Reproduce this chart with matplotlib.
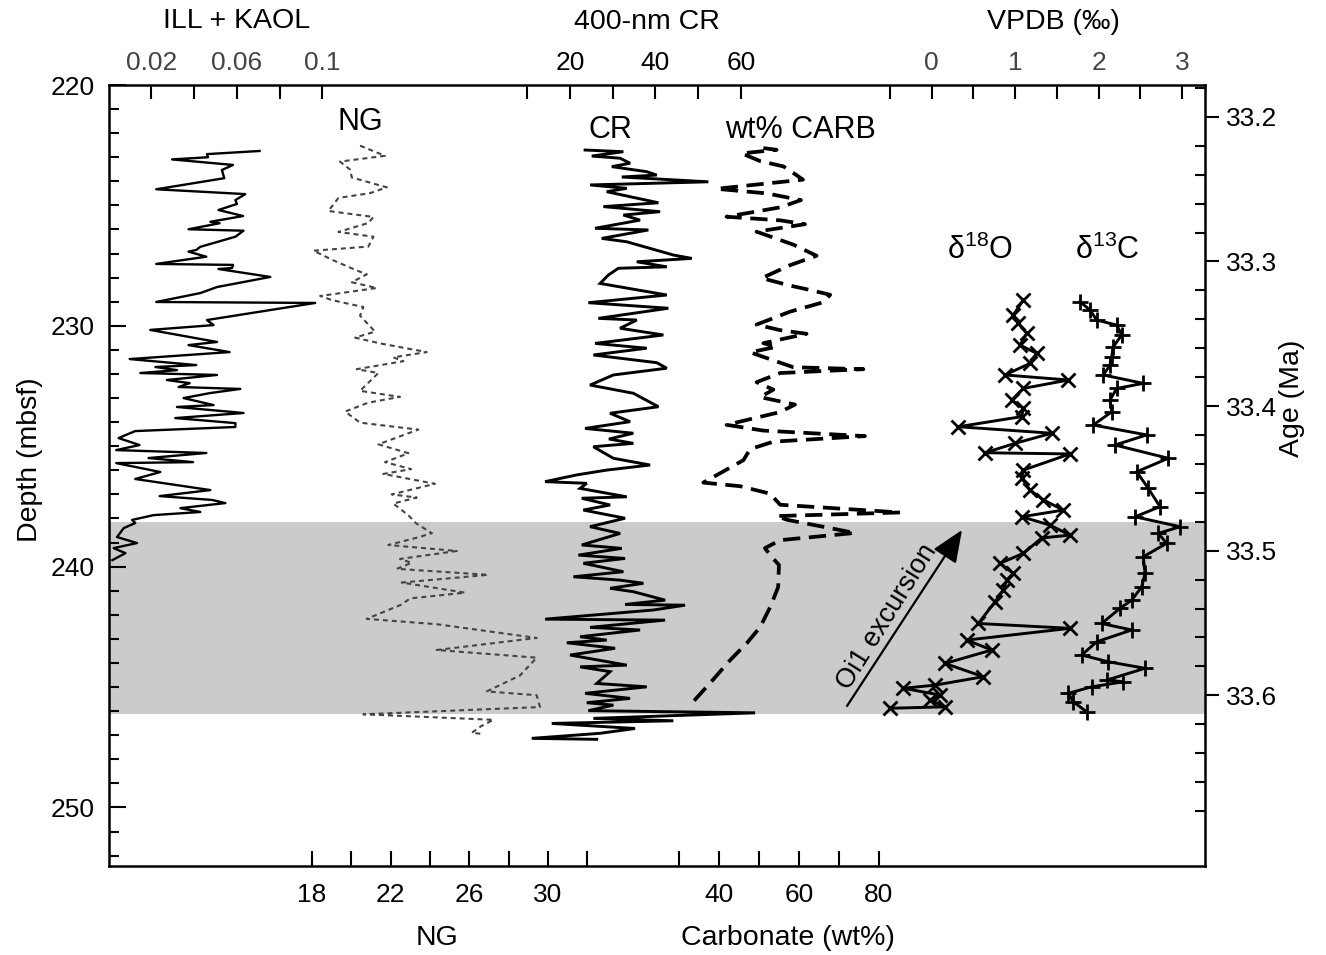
import numpy as np
import matplotlib
matplotlib.use("Agg")
import matplotlib.pyplot as plt
from matplotlib.ticker import FixedLocator

plt.rcParams['font.family'] = ['Liberation Sans', 'DejaVu Sans']
plt.rcParams['mathtext.fontset'] = 'custom'
plt.rcParams['mathtext.rm'] = 'Liberation Sans'
plt.rcParams['mathtext.it'] = 'Liberation Sans:italic'

# ---------------- axis ranges / ticks ----------------
DEPTH_RANGE = (220.0, 252.43)
AGE_RANGE = (33.178, 33.718)
ILL_RANGE = (0.0, 0.5124)
CR_RANGE = (-88.1, 168.7)
NG_RANGE = (7.65, 63.40)
CARB_RANGE = (-112.6, 161.5)
VPDB_RANGE = (-9.859, 3.273)
OI1_BAND = (238.15, 246.12)

DEPTH_TICKS = [220, 230, 240, 250]
AGE_TICKS = [33.2, 33.3, 33.4, 33.5, 33.6]
ILL_TICKS = [0.02, 0.04, 0.06, 0.08, 0.10]
ILL_LABELS = ['0.02', '', '0.06', '', '0.1']
CR_TICKS = [10, 20, 30, 40, 50, 60]
CR_LABELS = ['', '20', '', '40', '', '60']
VPDB_TICKS = [-0.5, 0, 0.5, 1, 1.5, 2, 2.5, 3]
VPDB_LABELS = ['', '0', '', '1', '', '2', '', '3']
NG_TICKS = [18, 20, 22, 24, 26, 28, 30, 32]
NG_LABELS = ['18', '', '22', '', '26', '', '30', '']
CARB_TICKS = [30, 40, 50, 60, 70, 80]
CARB_LABELS = ['', '40', '', '60', '', '80']

# ---------------- data (depth mbsf, value) ----------------
ILL_KAOL = [(222.74, 0.0706), (222.87, 0.0460), (223.00, 0.0465), (223.09, 0.0297), (223.32, 0.0582),
            (223.53, 0.0530), (223.87, 0.0541), (224.33, 0.0223), (224.53, 0.0639), (224.78, 0.0593),
            (224.94, 0.0600), (225.19, 0.0514), (225.44, 0.0629), (225.68, 0.0476), (225.74, 0.0519),
            (225.99, 0.0374), (226.05, 0.0631), (226.30, 0.0593), (226.72, 0.0429), (226.85, 0.0410),
            (226.92, 0.0374), (227.13, 0.0457), (227.43, 0.0223), (227.47, 0.0582), (227.60, 0.0577),
            (227.64, 0.0514), (227.97, 0.0756), (228.39, 0.0507), (228.64, 0.0429), (229.01, 0.0223),
            (229.05, 0.0966), (229.76, 0.0460), (229.97, 0.0491), (230.17, 0.0195), (230.67, 0.0507),
            (230.80, 0.0374), (231.09, 0.0566), (231.38, 0.0099), (231.63, 0.0410), (231.71, 0.0219),
            (231.84, 0.0320), (231.96, 0.0149), (232.04, 0.0507), (232.25, 0.0273), (232.38, 0.0379),
            (232.54, 0.0328), (232.62, 0.0616), (232.79, 0.0476), (233.00, 0.0351), (233.29, 0.0491),
            (233.37, 0.0320), (233.62, 0.0631), (233.83, 0.0312), (234.04, 0.0593), (234.20, 0.0593),
            (234.37, 0.0125), (234.66, 0.0047), (234.95, 0.0145), (235.16, 0.0036), (235.28, 0.0457),
            (235.49, 0.0187), (235.66, 0.0395), (235.70, 0.0036), (236.07, 0.0242), (236.36, 0.0125),
            (236.82, 0.0476), (237.07, 0.0239), (237.23, 0.0484), (237.36, 0.0546), (237.57, 0.0336),
            (237.73, 0.0429), (237.86, 0.0211), (238.06, 0.0110), (238.19, 0.0125), (238.40, 0.0071),
            (238.77, 0.0040), (239.02, 0.0133), (239.23, 0.0024), (239.44, 0.0079), (239.73, 0.0018)]

NG = [(222.52, 20.44), (222.94, 21.71), (223.18, 19.42), (223.51, 19.93), (223.84, 20.02), (224.25, 21.80),
      (224.49, 20.95), (224.69, 19.34), (225.23, 18.83), (225.48, 21.12), (225.73, 20.86), (226.10, 19.34),
      (226.30, 21.12), (226.71, 20.86), (226.88, 18.07), (227.28, 19.08), (227.70, 20.27), (227.86, 20.78),
      (228.19, 20.02), (228.43, 21.29), (228.76, 18.41), (228.93, 19.00), (229.22, 20.61), (229.58, 20.44),
      (230.24, 21.20), (230.49, 20.19), (230.73, 21.46), (231.09, 23.83), (231.31, 22.13), (231.47, 22.64),
      (231.80, 20.27), (231.96, 21.37), (232.70, 20.44), (232.95, 22.47), (233.19, 20.86), (233.56, 19.68),
      (234.02, 20.44), (234.31, 23.40), (234.92, 21.37), (235.29, 22.90), (235.66, 21.71), (235.95, 23.04),
      (236.15, 21.62), (236.56, 24.25), (237.00, 22.05), (237.13, 23.32), (237.38, 22.13), (237.87, 22.90),
      (238.20, 23.29), (238.61, 24.09), (238.78, 23.41), (239.10, 21.88), (239.35, 25.36), (239.68, 22.47),
      (239.84, 23.06), (240.09, 22.31), (240.34, 26.96), (240.66, 22.56), (241.08, 25.78), (241.32, 22.98),
      (241.57, 22.56), (242.17, 20.78), (242.39, 24.34), (242.96, 29.42), (243.46, 24.34), (243.78, 29.42),
      (244.52, 28.57), (245.18, 26.88), (245.34, 29.42), (245.83, 29.59), (246.13, 20.61), (246.36, 27.22),
      (246.62, 26.60), (246.90, 26.12), (246.95, 26.70)]

CR = [(222.70, 23.51), (222.77, 32.48), (222.95, 25.08), (223.04, 31.71), (223.25, 34.05), (223.39, 29.77),
      (223.60, 37.96), (223.74, 40.30), (223.82, 32.11), (224.02, 52.39), (224.15, 24.68), (224.29, 33.28),
      (224.43, 28.59), (224.89, 40.68), (225.05, 27.80), (225.26, 41.08), (225.40, 32.48), (225.61, 36.39),
      (225.95, 25.85), (226.02, 38.34), (226.37, 27.42), (226.51, 33.28), (227.06, 44.19), (227.20, 48.50),
      (227.34, 35.62), (227.55, 42.65), (227.61, 31.31), (227.89, 28.97), (228.24, 27.03), (228.72, 42.65),
      (229.04, 24.29), (229.27, 43.02), (229.69, 26.63), (229.76, 35.62), (230.10, 31.71), (230.38, 41.85),
      (230.73, 25.85), (230.93, 37.96), (231.21, 25.46), (231.53, 40.30), (231.76, 42.65), (232.04, 30.14),
      (232.46, 24.68), (232.80, 34.82), (233.36, 40.68), (233.63, 29.37), (233.98, 34.05), (234.26, 23.51),
      (234.46, 34.82), (234.70, 29.10), (234.88, 34.82), (235.02, 25.46), (235.50, 30.14), (235.78, 38.74),
      (235.99, 28.59), (236.19, 21.57), (236.47, 14.15), (236.54, 23.91), (236.75, 22.34), (237.10, 33.28),
      (237.16, 22.74), (237.44, 29.37), (237.65, 23.11), (237.99, 32.88), (238.34, 24.68), (238.62, 31.71),
      (239.10, 22.74), (239.24, 32.11), (239.52, 21.94), (239.66, 32.88), (239.86, 23.11), (240.21, 32.48),
      (240.42, 20.77), (240.56, 31.71), (240.69, 37.17), (240.90, 29.37), (241.04, 34.82), (241.39, 42.25),
      (241.57, 32.88), (241.60, 46.93), (241.80, 39.51), (242.18, 14.15), (242.22, 42.25), (242.52, 24.68),
      (242.63, 36.39), (242.91, 22.34), (243.05, 28.59), (243.16, 19.23), (243.39, 30.54), (243.67, 20.00),
      (244.09, 33.28), (244.16, 22.34), (244.36, 29.37), (244.85, 26.25), (244.99, 37.96), (245.26, 23.51),
      (245.47, 34.05), (245.65, 23.91), (245.75, 30.14), (245.98, 24.29), (246.07, 63.33), (246.30, 25.46),
      (246.40, 44.19), (246.51, 15.71), (246.72, 35.22), (246.92, 27.03), (247.13, 11.03), (247.17, 26.25)]

CARB = [(222.62, 51.1), (222.69, 54.4), (222.84, 45.7), (223.16, 50.3), (223.38, 56.1), (223.70, 59.0),
        (223.93, 61.0), (224.31, 39.4), (224.50, 51.9), (224.78, 60.5), (225.08, 55.3), (225.47, 41.9),
        (225.62, 55.3), (225.78, 61.5), (226.09, 49.4), (226.63, 58.6), (227.09, 64.4), (227.48, 57.8),
        (228.02, 50.7), (228.33, 57.8), (228.48, 61.9), (228.71, 67.8), (229.02, 66.1), (229.41, 57.8),
        (229.95, 49.4), (230.18, 55.3), (230.33, 61.9), (230.72, 51.1), (230.87, 54.4), (231.10, 47.8),
        (231.72, 58.6), (231.80, 76.1), (231.96, 55.3), (232.34, 49.4), (232.65, 53.6), (232.96, 50.3),
        (233.27, 59.0), (233.58, 55.3), (234.11, 41.9), (234.35, 51.1), (234.58, 76.5), (234.81, 53.6),
        (235.12, 47.8), (235.58, 46.1), (236.51, 36.1), (236.66, 45.3), (236.97, 52.8), (237.43, 55.3),
        (237.75, 85.3), (237.90, 54.4), (238.05, 56.9), (238.60, 74.0), (238.90, 55.3), (239.23, 51.5),
        (239.52, 52.8), (239.93, 55.0), (240.85, 54.8), (241.68, 52.8), (242.51, 50.3), (243.17, 47.0),
        (243.88, 42.8), (244.83, 37.8), (245.62, 33.5)]

D18O = [(228.93, 1.097), (229.55, 0.977), (229.90, 1.037), (230.31, 1.138), (230.80, 1.057), (231.14, 1.257),
        (231.56, 1.177), (232.04, 0.878), (232.25, 1.636), (232.60, 1.097), (233.08, 0.958), (233.43, 1.097),
        (233.77, 1.078), (234.19, 0.319), (234.46, 1.437), (234.88, 0.998), (235.27, 0.638), (235.32, 1.656),
        (235.99, 1.097), (236.33, 1.078), (236.82, 1.177), (237.23, 1.337), (237.65, 1.576), (237.93, 1.078),
        (238.27, 1.413), (238.69, 1.656), (238.81, 1.317), (239.45, 1.097), (239.86, 0.818), (240.28, 0.977),
        (240.56, 0.898), (240.97, 0.857), (241.46, 0.758), (242.36, 0.558), (242.56, 1.656), (243.05, 0.419),
        (243.46, 0.719), (244.02, 0.159), (244.57, 0.618), (244.92, 0.040), (245.05, -0.340), (245.33, 0.100),
        (245.54, -0.020), (245.82, 0.159), (245.88, -0.499)]

D13C = [(229.00, 1.776), (229.34, 1.896), (229.76, 1.976), (229.97, 2.216), (230.38, 2.275), (230.87, 2.175),
        (231.28, 2.156), (231.63, 2.135), (232.04, 2.055), (232.39, 2.534), (232.60, 2.216), (233.08, 2.135),
        (233.57, 2.156), (234.12, 1.935), (234.53, 2.575), (234.95, 2.195), (235.50, 2.834), (236.06, 2.455),
        (236.75, 2.594), (237.51, 2.734), (237.93, 2.435), (238.34, 2.974), (238.62, 2.714), (239.03, 2.814),
        (239.59, 2.534), (240.28, 2.555), (240.84, 2.515), (241.39, 2.395), (241.73, 2.255), (242.36, 2.036),
        (242.63, 2.395), (243.12, 1.976), (243.67, 1.796), (243.95, 2.115), (244.22, 2.555), (244.71, 2.096),
        (244.78, 2.295), (244.99, 1.916), (245.26, 1.636), (245.61, 1.696), (246.03, 1.856)]

# ---------------- figure ----------------
W, H = 1326, 955
fig = plt.figure(figsize=(W / 100, H / 100), dpi=100)
L, R, T, B = 108.5, 1205.0, 85.0, 866.0
pos = [L / W, 1 - B / H, (R - L) / W, (B - T) / H]


def px(x, y):
    return (x / W, 1 - y / H)


ax = fig.add_axes(pos, label='main')
ax.set_xlim(0, 1)
ax.set_ylim(DEPTH_RANGE[1], DEPTH_RANGE[0])
ax.set_xticks([])
ax.axhspan(OI1_BAND[0], OI1_BAND[1], color='#cbcbcb', lw=0, zorder=0)
ax.set_yticks(DEPTH_TICKS)
ax.set_yticklabels([str(t) for t in DEPTH_TICKS])
ax.yaxis.set_minor_locator(FixedLocator(np.arange(221, 253)))
ax.tick_params(axis='y', which='major', direction='in', length=12, width=1.5, labelsize=19, pad=10)
ax.tick_params(axis='y', which='minor', direction='in', length=7, width=1.5)
for s in ax.spines.values():
    s.set_linewidth(1.8)

axa = ax.twinx()
axa.set_ylim(AGE_RANGE[1], AGE_RANGE[0])
axa.set_yticks(AGE_TICKS)
axa.set_yticklabels([f'{t:.1f}' for t in AGE_TICKS])
axa.yaxis.set_minor_locator(FixedLocator(np.round(np.arange(33.18, 33.681, 0.02), 2)))
axa.tick_params(axis='y', which='major', direction='out', length=10, width=1.5, labelsize=19, pad=5)
axa.tick_params(axis='y', which='minor', direction='in', length=7, width=1.5)
for s in axa.spines.values():
    s.set_visible(False)


def overlay(xr, name):
    a = fig.add_axes(pos, facecolor='none', label=name)
    a.set_xlim(*xr)
    a.set_ylim(DEPTH_RANGE[1], DEPTH_RANGE[0])
    a.set_yticks([])
    for s in a.spines.values():
        s.set_visible(False)
    return a


def top_ticks(a, ticks, labels, color):
    a.xaxis.set_ticks_position('top')
    a.set_xticks(ticks)
    a.set_xticklabels(labels)
    a.tick_params(axis='x', direction='in', length=10, width=1.5, labelsize=19, pad=7, labelcolor=color)


def bottom_ticks(a, ticks, labels):
    a.xaxis.set_ticks_position('bottom')
    a.set_xticks(ticks)
    a.set_xticklabels(labels)
    a.tick_params(axis='x', direction='in', length=11, width=1.5, labelsize=19, pad=12)


a_ill = overlay(ILL_RANGE, 'ill')
top_ticks(a_ill, ILL_TICKS, ILL_LABELS, '#444444')
d, v = np.array(ILL_KAOL).T
a_ill.plot(v, d, color='black', lw=1.7)

a_ng = overlay(NG_RANGE, 'ng')
bottom_ticks(a_ng, NG_TICKS, NG_LABELS)
d, v = np.array(NG).T
a_ng.plot(v, d, color='#444444', lw=1.5, linestyle=(0, (2.4, 1.9)))

a_cr = overlay(CR_RANGE, 'cr')
top_ticks(a_cr, CR_TICKS, CR_LABELS, 'black')
d, v = np.array(CR).T
a_cr.plot(v, d, color='black', lw=2.1, solid_joinstyle='miter')

a_cb = overlay(CARB_RANGE, 'carb')
bottom_ticks(a_cb, CARB_TICKS, CARB_LABELS)
d, v = np.array(CARB).T
a_cb.plot(v, d, color='black', lw=2.7, linestyle=(0, (4.6, 2.3)))

a_vp = overlay(VPDB_RANGE, 'vpdb')
top_ticks(a_vp, VPDB_TICKS, VPDB_LABELS, '#444444')
d, v = np.array(D18O).T
a_vp.plot(v, d, color='black', lw=2.1, marker='x', ms=10.5, mew=2.0)
d, v = np.array(D13C).T
a_vp.plot(v, d, color='black', lw=2.1, marker='+', ms=12, mew=2.0)

# ---------------- texts ----------------
fs_lab = 20.5
fig.text(*px(237, 21), 'ILL + KAOL', ha='center', va='center', fontsize=fs_lab)
fig.text(*px(647, 22), '400-nm CR', ha='center', va='center', fontsize=fs_lab)
fig.text(*px(1053, 22), 'VPDB (\u2030)', ha='center', va='center', fontsize=fs_lab)
fig.text(*px(437, 938), 'NG', ha='center', va='center', fontsize=fs_lab)
fig.text(*px(788, 938), 'Carbonate (wt%)', ha='center', va='center', fontsize=fs_lab)
fig.text(*px(30, 460), 'Depth (mbsf)', ha='center', va='center', rotation=90, fontsize=fs_lab)
fig.text(*px(1292, 398), 'Age (Ma)', ha='center', va='center', rotation=90, fontsize=fs_lab)

fs_in = 22
fig.text(*px(360, 122), 'NG', ha='center', va='center', fontsize=fs_in)
fig.text(*px(610, 130), 'CR', ha='center', va='center', fontsize=fs_in)
fig.text(*px(800, 130), 'wt% CARB', ha='center', va='center', fontsize=fs_in)
fig.text(*px(980, 250), r'$\mathregular{\delta^{18}O}$', ha='center', va='center', fontsize=fs_in)
fig.text(*px(1107, 250), r'$\mathregular{\delta^{13}C}$', ha='center', va='center', fontsize=fs_in)
fig.text(*px(887, 617), 'Oi1 excursion', ha='center', va='center', rotation=58,
         rotation_mode='anchor', fontsize=19.5)
ax.annotate('', xy=px(962, 530), xytext=px(847, 706), xycoords='figure fraction',
            textcoords='figure fraction',
            arrowprops=dict(arrowstyle='-|>,head_length=0.9,head_width=0.38', lw=1.6,
                            color='black', mutation_scale=22, shrinkA=0, shrinkB=0))

fig.savefig('out.png', dpi=100)
